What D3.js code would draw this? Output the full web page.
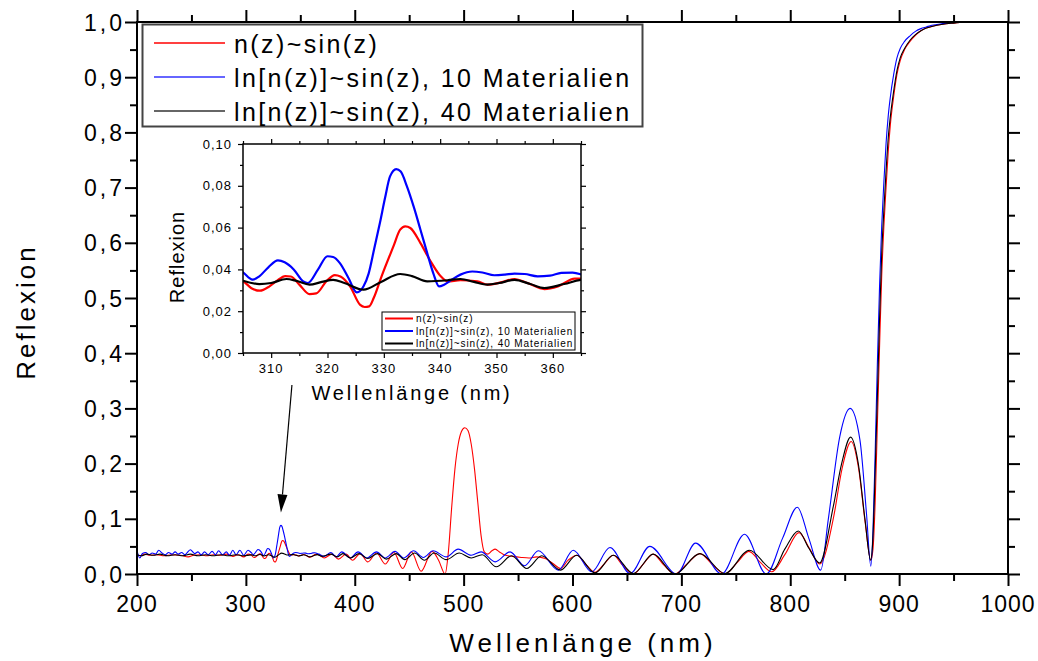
<!DOCTYPE html>
<html>
<head>
<meta charset="utf-8">
<script src="https://cdn.jsdelivr.net/npm/d3@7"></script>
<style>
  html, body { margin: 0; padding: 0; background: #fff; }
  svg { display: block; font-family: "Liberation Sans", Arial, sans-serif; }
</style>
</head>
<body>
<svg id="chart" width="1038" height="661"></svg>
<script>
// ---- Reflexion spectra: [wavelength in nm, reflexion] ----
const seriesSin = [
  [200,.035],[203,.033],[207,.036],[212,.034],[218,.035],[225,.033],[232,.035],[240,.034],[247,.031],[252,.034],
  [258,.035],[264,.033],[270,.035],[276,.034],[282,.036],[288,.032],[293,.035],[298,.031],[302,.036],
  [305,.0343],[306.5,.031],[308,.0298],[309.7,.0319],[311,.0345],[312.5,.0368],[313.5,.0366],[315,.0327],[316.8,.0282],
  [318,.0285],[319.8,.0343],[321.3,.0373],[322.3,.0366],[324,.0319],[325.8,.023],[326.6,.022],[327.4,.0223],[328.2,.0263],
  [329.6,.0367],[331.7,.051],[332.9,.059],[333.8,.0606],[334.7,.0598],[336.5,.0526],[338.3,.0439],[340.1,.0367],
  [341.3,.0343],[343.6,.0348],[346.6,.0343],[348.4,.0327],[350.8,.0338],[353.2,.0354],[355.5,.0335],[358.5,.0306],
  [360.9,.0319],[363.9,.0356],[366,.0355],
  [372,.029],[379,.036],[385,.027],[392,.036],[398,.025],[405,.037],[412,.022],[420,.038],[428,.018],[436,.039],
  [444,.010],[452,.040],[461,.005],[471,.041],[477,.025],[483,.0],
  [486,.04],[489,.12],[492,.19],[495,.235],[498,.258],[501,.265],[504,.26],[507,.235],[510,.19],[513,.13],[516,.07],
  [519,.04],[522,.036],[526,.042],[529,.045],[533,.04],[537,.035],[545,.032],[553,.030],[560,.029],[567,.031],
  [575,.028],[582,.019],[589,.010],[596,.025],[604,.034],[612,.018],[620.6,.003],[629,.018],[637.5,.034],[646,.016],
  [656,.0],[665,.018],[674,.036],[684,.016],[694,.0],[705,.018],[717,.037],[729,.016],[740,.0],[751,.02],[762,.041],
  [773,.02],[783,.004],[795,.035],[808,.075],[818,.045],[827,.018],[840,.105],[847.5,.19],[856,.240],[862.7,.192],
  [868.9,.092],[874,.025],[876,.045],[878,.13],[880,.27],[882,.41],[884,.54],[886,.63],[888,.70],[890,.765],
  [892,.815],[895,.865],[898,.905],[901,.93],[905,.95],[910,.965],[915,.976],[920,.984],[925,.989],[930,.992],
  [940,.996],[950,.998],[960,.9995],[970,1.0],[1000,1.0]
];

const seriesLn10 = [
  [200,.043],[202.5,.029],[205,.037],[208,.039],[211,.035],[214,.038],[217,.036],[220,.043],[223,.038],[226,.035],
  [229,.039],[232,.036],[235,.040],[238,.036],[241,.039],[244,.035],[249,.044],[253,.037],[256,.040],[259,.035],
  [262,.040],[265.5,.035],[269,.041],[272,.035],[275,.042],[278.5,.035],[282,.040],[285,.034],[288,.043],[291,.035],
  [294.5,.043],[298,.034],[302,.043],
  [305,.0386],[306.7,.0351],[307.9,.0367],[309.5,.041],[311.2,.0443],[312.4,.0434],[314,.04],[315.7,.0343],[316.5,.0335],
  [318.3,.0399],[320,.0463],[321,.0459],[322.2,.043],[323.7,.036],[325.2,.029],[326.4,.0319],[327.3,.038],[328.3,.05],
  [329.3,.0622],[330.2,.074],[331.1,.0845],[332.2,.088],[333,.0868],[334.1,.0797],[335.3,.07],[336.5,.059],[337.7,.0478],
  [338.8,.038],[339.8,.0319],[340.7,.0327],[342,.035],[343.6,.0375],[345.7,.039],[347.5,.0385],[349.6,.0372],
  [351.5,.0375],[353.2,.038],[355,.0378],[357.3,.0367],[359.5,.037],[361.5,.0383],[363.5,.0385],[365.5,.0372],
  [367,.036],[372,.032],[378,.039],[383,.031],[388,.040],[396,.029],[403,.040],[411,.029],[420,.040],[428,.029],
  [437,.041],[445,.029],[454,.042],[463,.030],[472,.042],[484,.031],[495,.045],[507,.034],[516,.040],[529,.022],
  [542.6,.040],[556,.015],[568.6,.042],[587,.007],[600.7,.043],[617.6,.004],[634.4,.048],[653,.001],[671,.050],
  [695.7,.0],[713,.056],[737,.0],[758,.072],[778,.0],[793,.065],[806.5,.121],[817,.065],[828,.007],[835,.10],
  [845.5,.249],[855,.30],[864,.243],[870,.11],[874,.014],[876,.08],[878,.22],[880,.38],[882,.52],[884,.63],
  [886,.71],[888,.78],[890,.83],[892,.865],[895,.905],[898,.935],[901,.952],[905,.965],[910,.975],[915,.983],
  [920,.988],[925,.991],[930,.994],[940,.997],[950,.999],[960,1.0],[1000,1.0]
];

const seriesLn40 = [
  [200,.035],[204,.033],[209,.036],[215,.034],[221,.036],[228,.033],[235,.035],[242,.033],[249,.036],[256,.033],
  [263,.035],[270,.033],[277,.035],[284,.033],[291,.035],[298,.033],
  [305,.0346],[307.9,.033],[310,.0335],[312.7,.0354],[314.5,.0345],[316.8,.0327],[319,.034],[321,.035],[323,.0335],
  [326.4,.0303],[329.5,.034],[332.9,.0378],[335,.0368],[337.7,.0343],[341.3,.0348],[343.6,.0354],[346,.034],
  [348.4,.0327],[350.5,.0335],[353.2,.035],[356,.033],[358.5,.0311],[362,.033],[365.5,.0351],
  [370,.032],[378,.036],[384,.031],[389,.037],[396,.029],[404,.037],[412,.028],[421,.037],[429,.027],[438,.037],
  [446,.026],[455,.038],[464,.025],[473,.038],[484,.026],[496,.038],[507,.029],[517,.035],[530,.013],[544,.033],
  [558,.010],[571.7,.033],[589,.007],[603.8,.034],[620.6,.002],[637.5,.034],[656,.001],[674.2,.036],[694,.0],
  [717,.037],[740,.001],[762.4,.043],[784.4,.008],[795,.045],[807.4,.078],[817,.047],[827,.020],[839.5,.122],
  [847.2,.2],[855.5,.248],[862.5,.2],[868.7,.098],[873.8,.025],[875.5,.05],[877,.12],[878.5,.22],[880,.32],
  [882,.46],[884,.58],[886,.66],[888,.73],[890,.79],[892,.83],[895,.875],[898,.912],[901,.935],[905,.952],
  [910,.967],[915,.977],[920,.984],[925,.989],[930,.992],[940,.996],[950,.998],[960,.9995],[970,1.0],[1000,1.0]
];

const seriesLabels = ["n(z)~sin(z)", "ln[n(z)]~sin(z), 10 Materialien", "ln[n(z)]~sin(z), 40 Materialien"];
const seriesColors = ["#ff0000", "#0000ff", "#000000"];
const legendLineColors = ["#ff0000", "#3333ff", "#333333"];

// ---- axis ticks ----
const mainXMajor = [200, 300, 400, 500, 600, 700, 800, 900, 1000];
const mainXMinor = [250, 350, 450, 550, 650, 750, 850, 950];
const mainYMajor = [0, 0.1, 0.2, 0.3, 0.4, 0.5, 0.6, 0.7, 0.8, 0.9, 1.0];
const mainYMinor = [0.05, 0.15, 0.25, 0.35, 0.45, 0.55, 0.65, 0.75, 0.85, 0.95];
const insetXMajor = [310, 320, 330, 340, 350, 360];
const insetXMinor = [305, 315, 325, 335, 345, 355, 365];
const insetYMajor = [0, 0.02, 0.04, 0.06, 0.08, 0.10];
const insetYMinor = [0.01, 0.03, 0.05, 0.07, 0.09];

const xTitle = "Wellenlänge (nm)";
const yTitle = "Reflexion";

// German number format (decimal comma)
const de = d3.formatLocale({ decimal: ",", thousands: ".", grouping: [3], currency: ["", " €"] });
const fmt1 = de.format(".1f");
const fmt2 = de.format(".2f");
const fmt0 = de.format("d");

const svg = d3.select("#chart");
const allSeries = [seriesSin, seriesLn10, seriesLn40];

// ---------------- main plot ----------------
const M = { left: 137, right: 1008, top: 22, bottom: 574 };
const x = d3.scaleLinear().domain([200, 1000]).range([M.left, M.right]);
const y = d3.scaleLinear().domain([0, 1]).range([M.bottom, M.top]);

function tickAxis(g, axis, size, width) {
  g.call(axis.tickSize(size).tickSizeOuter(0).tickFormat(""));
  g.select(".domain").remove();
  g.selectAll(".tick line").attr("stroke", "#000").attr("stroke-width", width);
}

function frameTicks(root, sx, sy, box, xMaj, xMin, yMaj, yMin, majLen, minLen, w) {
  tickAxis(root.append("g").attr("transform", `translate(0,${box.bottom})`), d3.axisBottom(sx).tickValues(xMaj), majLen, w);
  tickAxis(root.append("g").attr("transform", `translate(0,${box.bottom})`), d3.axisBottom(sx).tickValues(xMin), minLen, w);
  tickAxis(root.append("g").attr("transform", `translate(0,${box.top})`), d3.axisTop(sx).tickValues(xMaj), majLen, w);
  tickAxis(root.append("g").attr("transform", `translate(0,${box.top})`), d3.axisTop(sx).tickValues(xMin), minLen, w);
  tickAxis(root.append("g").attr("transform", `translate(${box.left},0)`), d3.axisLeft(sy).tickValues(yMaj), majLen, w);
  tickAxis(root.append("g").attr("transform", `translate(${box.left},0)`), d3.axisLeft(sy).tickValues(yMin), minLen, w);
  tickAxis(root.append("g").attr("transform", `translate(${box.right},0)`), d3.axisRight(sy).tickValues(yMaj), majLen, w);
  tickAxis(root.append("g").attr("transform", `translate(${box.right},0)`), d3.axisRight(sy).tickValues(yMin), minLen, w);
}

svg.append("clipPath").attr("id", "mainClip")
  .append("rect").attr("x", M.left).attr("y", M.top - 2)
  .attr("width", M.right - M.left).attr("height", M.bottom - M.top + 2);

const lineMain = d3.line().x(d => x(d[0])).y(d => y(d[1])).curve(d3.curveMonotoneX);

const curves = svg.append("g").attr("clip-path", "url(#mainClip)");
allSeries.forEach((s, i) => {
  curves.append("path").datum(s)
    .attr("d", lineMain)
    .attr("fill", "none")
    .attr("stroke", seriesColors[i])
    .attr("stroke-width", 1.1)
    .attr("stroke-linejoin", "round");
});

const mainAxes = svg.append("g");
frameTicks(mainAxes, x, y, M, mainXMajor, mainXMinor, mainYMajor, mainYMinor, 12, 7, 2);
mainAxes.append("rect")
  .attr("x", M.left).attr("y", M.top)
  .attr("width", M.right - M.left).attr("height", M.bottom - M.top)
  .attr("fill", "none").attr("stroke", "#000").attr("stroke-width", 2);

// tick labels
svg.append("g").selectAll("text").data(mainXMajor).join("text")
  .attr("x", d => x(d)).attr("y", 612)
  .attr("text-anchor", "middle")
  .attr("font-size", 23).attr("letter-spacing", 1)
  .text(d => fmt0(d));

svg.append("g").selectAll("text").data(mainYMajor).join("text")
  .attr("x", 125).attr("y", d => y(d) + 8.5)
  .attr("text-anchor", "end")
  .attr("font-size", 23).attr("letter-spacing", 3)
  .text(d => fmt1(d));

// axis titles
svg.append("text")
  .attr("x", 583).attr("y", 652)
  .attr("text-anchor", "middle")
  .attr("font-size", 26).attr("letter-spacing", 4)
  .text(xTitle);

svg.append("text")
  .attr("transform", "translate(35,312) rotate(-90)")
  .attr("text-anchor", "middle")
  .attr("font-size", 26).attr("letter-spacing", 3)
  .text(yTitle);

// legend
const legend = svg.append("g");
legend.append("rect")
  .attr("x", 142.5).attr("y", 24.5).attr("width", 500).attr("height", 102)
  .attr("fill", "#fff").attr("stroke", "#444").attr("stroke-width", 2);
const legendRows = [43, 77, 111];
seriesLabels.forEach((lab, i) => {
  legend.append("line")
    .attr("x1", 154).attr("x2", 225).attr("y1", legendRows[i]).attr("y2", legendRows[i])
    .attr("stroke", legendLineColors[i]).attr("stroke-width", 1.6);
  legend.append("text")
    .attr("x", 234).attr("y", legendRows[i] + 9.5)
    .attr("font-size", 25).attr("letter-spacing", 2.4)
    .text(lab);
});

// ---------------- inset (zoom on 305–365 nm) ----------------
const I = { left: 243, right: 581, top: 144, bottom: 353 };
const xi = d3.scaleLinear().domain([305, 365]).range([I.left, I.right]);
const yi = d3.scaleLinear().domain([0, 0.1]).range([I.bottom, I.top]);

svg.append("rect")
  .attr("x", I.left).attr("y", I.top)
  .attr("width", I.right - I.left).attr("height", I.bottom - I.top)
  .attr("fill", "#fff");

svg.append("clipPath").attr("id", "insetClip")
  .append("rect").attr("x", I.left).attr("y", I.top)
  .attr("width", I.right - I.left).attr("height", I.bottom - I.top);

const lineInset = d3.line().x(d => xi(d[0])).y(d => yi(d[1])).curve(d3.curveMonotoneX);
const insetCurves = svg.append("g").attr("clip-path", "url(#insetClip)");
allSeries.forEach((s, i) => {
  insetCurves.append("path")
    .datum(s.filter(d => d[0] >= 300 && d[0] <= 372))
    .attr("d", lineInset)
    .attr("fill", "none")
    .attr("stroke", seriesColors[i])
    .attr("stroke-width", 2.2)
    .attr("stroke-linejoin", "round");
});

const insetAxes = svg.append("g");
frameTicks(insetAxes, xi, yi, I, insetXMajor, insetXMinor, insetYMajor, insetYMinor, 5, 3, 1.2);
insetAxes.append("rect")
  .attr("x", I.left).attr("y", I.top)
  .attr("width", I.right - I.left).attr("height", I.bottom - I.top)
  .attr("fill", "none").attr("stroke", "#000").attr("stroke-width", 1.5);

svg.append("g").selectAll("text").data(insetXMajor).join("text")
  .attr("x", d => xi(d)).attr("y", 373)
  .attr("text-anchor", "middle")
  .attr("font-size", 13).attr("letter-spacing", 1)
  .text(d => fmt0(d));

svg.append("g").selectAll("text").data(insetYMajor).join("text")
  .attr("x", 232).attr("y", d => yi(d) + 4.5)
  .attr("text-anchor", "end")
  .attr("font-size", 13).attr("letter-spacing", 1)
  .text(d => fmt2(d));

svg.append("text")
  .attr("x", 412).attr("y", 400)
  .attr("text-anchor", "middle")
  .attr("font-size", 20).attr("letter-spacing", 2.8)
  .text(xTitle);

svg.append("text")
  .attr("transform", "translate(184,257) rotate(-90)")
  .attr("text-anchor", "middle")
  .attr("font-size", 20).attr("letter-spacing", 1)
  .text(yTitle);

// inset legend
const il = svg.append("g");
il.append("rect")
  .attr("x", 382).attr("y", 312).attr("width", 193).attr("height", 38)
  .attr("fill", "#fff").attr("stroke", "#000").attr("stroke-width", 1);
const insetRows = [318.5, 331, 343.5];
seriesLabels.forEach((lab, i) => {
  il.append("line")
    .attr("x1", 385).attr("x2", 413).attr("y1", insetRows[i]).attr("y2", insetRows[i])
    .attr("stroke", seriesColors[i]).attr("stroke-width", 2);
  il.append("text")
    .attr("x", 416).attr("y", insetRows[i] + 3.5)
    .attr("font-size", 10).attr("letter-spacing", 0.9)
    .text(lab);
});

// ---------------- arrow pointing at the 332 nm peak ----------------
const peak = seriesLn10.reduce((a, b) => (b[0] > 320 && b[0] < 345 && b[1] > a[1] ? b : a), [0, 0]);
const tipX = x(peak[0]), tipY = y(peak[1]) - 13;
const startX = tipX + 11, startY = 385;
const ang = Math.atan2(tipY - startY, tipX - startX);
const headLen = 18, headHalf = 5;
const bx = tipX - headLen * Math.cos(ang), by = tipY - headLen * Math.sin(ang);
svg.append("line")
  .attr("x1", startX).attr("y1", startY).attr("x2", bx).attr("y2", by)
  .attr("stroke", "#000").attr("stroke-width", 1.2);
svg.append("path")
  .attr("d", d3.line()([
    [tipX, tipY],
    [bx + headHalf * Math.sin(ang), by - headHalf * Math.cos(ang)],
    [bx - headHalf * Math.sin(ang), by + headHalf * Math.cos(ang)]
  ]) + "Z")
  .attr("fill", "#000");
</script>
</body>
</html>
